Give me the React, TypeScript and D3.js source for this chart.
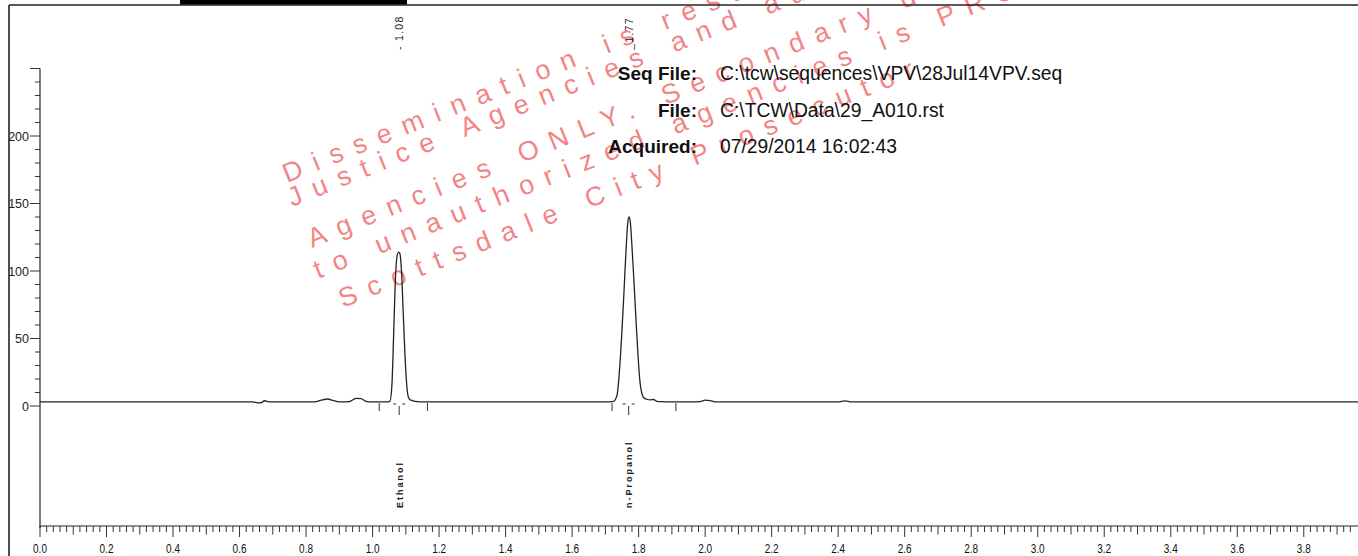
import React from "react";
import * as d3 from "d3";

const W = 1358;
const H = 556;

// Chromatogram trace: retention time (min) and signal
const traceTime = [
  0.0, 0.3, 0.64, 0.655, 0.665, 0.675, 0.69, 0.82, 0.85, 0.865, 0.88, 0.9, 0.93, 0.95, 0.965, 0.98, 0.995,
  1.04, 1.052, 1.058, 1.063, 1.068, 1.073, 1.078, 1.082, 1.087, 1.092, 1.097, 1.102, 1.107, 1.113, 1.12, 1.13, 1.15,
  1.4, 1.7, 1.725, 1.735, 1.742, 1.749, 1.756, 1.762, 1.767, 1.771, 1.775, 1.78, 1.786, 1.792, 1.798, 1.804, 1.81,
  1.816, 1.825, 1.835, 1.845, 1.855, 1.87, 1.9, 1.95, 1.985, 2.0, 2.015, 2.03, 2.4, 2.42, 2.44, 3.0, 3.963,
];
const traceSignal = [
  3, 3, 3, 2.3, 2.4, 3.9, 3.1, 3, 4.6, 5.2, 4.2, 3, 3.2, 5.6, 5.4, 3.5, 3,
  3, 3.5, 15, 50, 90, 110, 114, 113, 100, 70, 40, 18, 7, 4.5, 4, 3.4, 3,
  3, 3, 3.5, 8, 25, 52, 85, 115, 135, 140, 136, 118, 92, 64, 38, 18, 9,
  6, 5, 4.6, 4.8, 3.5, 3.2, 3, 3, 3.3, 4.3, 4.0, 3.1, 3, 3.8, 3, 3, 3,
];

const xTickLabels = ["0.0", "0.2", "0.4", "0.6", "0.8", "1.0", "1.2", "1.4", "1.6", "1.8", "2.0", "2.2", "2.4", "2.6", "2.8", "3.0", "3.2", "3.4", "3.6", "3.8"];
const yTickLabels = ["0", "50", "100", "150", "200"];

const peakNames = ["Ethanol", "n-Propanol"];
const peakRT = [1.08, 1.77];
const peakRTLabels = ["- 1.08", "_1.77"];
const peakStart = [1.02, 1.72];
const peakEnd = [1.165, 1.912];

const headerKeys = ["Seq File:", "File:", "Acquired:"];
const headerValues = [
  "C:\\tcw\\sequences\\VPV\\28Jul14VPV.seq",
  "C:\\TCW\\Data\\29_A010.rst",
  "07/29/2014 16:02:43",
];

const watermarkLines = [
  "Dissemination is restricted to authorized Criminal",
  "Justice Agencies and authorized",
  "Agencies ONLY. Secondary dissemination",
  "to unauthorized agencies is PROHIBITED",
  "Scottsdale City Prosecutor",
];
const watermarkAnchors = [
  [287, 183],
  [292, 207],
  [312, 248],
  [318, 279],
  [343, 308],
];

export default function App() {
  const x = d3.scaleLinear().domain([0, 3.963]).range([40, 1358]);
  const y = d3.scaleLinear().domain([0, 250]).range([406, 68.5]);
  const axisY = 526;

  const pts: [number, number][] = traceTime.map((t, i) => [t, traceSignal[i]]);
  const path = d3
    .line<[number, number]>()
    .x((d) => x(d[0]))
    .y((d) => y(d[1]))
    .curve(d3.curveMonotoneX)(pts) as string;

  const xMinor = d3.range(0, 198).map((i) => ({ v: i * 0.02, i }));
  const yMinor = d3.range(0, 26).map((i) => i * 10);

  const font = "'Liberation Sans', Arial, Helvetica, sans-serif";

  return (
    <svg
      width={W}
      height={H}
      style={{ position: "absolute", left: 0, top: 0, background: "#fff" }}
      fontFamily={font}
    >
      <rect x={0} y={0} width={W} height={H} fill="#fff" />

      {/* watermark */}
      <g fill="#f06e6e" fillOpacity={0.85} fontSize={27} letterSpacing={12}>
        {watermarkLines.map((s, i) => (
          <text
            key={i}
            transform={`translate(${watermarkAnchors[i][0]},${watermarkAnchors[i][1]}) rotate(-22)`}
          >
            {s}
          </text>
        ))}
      </g>

      {/* frame */}
      <line x1={9} y1={5} x2={W} y2={5} stroke="#222" strokeWidth={1.6} />
      <line x1={9} y1={5} x2={9} y2={H} stroke="#222" strokeWidth={1.6} />
      <rect x={180} y={0} width={227} height={4.5} fill="#000" />

      {/* y axis */}
      <line x1={40} y1={y(250)} x2={40} y2={axisY + 2} stroke="#222" strokeWidth={1.2} />
      {yMinor.map((v) => (
        <line
          key={v}
          x1={v % 50 === 0 ? 30 : 35}
          x2={40}
          y1={y(v)}
          y2={y(v)}
          stroke="#333"
          strokeWidth={1}
        />
      ))}
      {yTickLabels.map((s) => (
        <text key={s} x={29} y={y(+s) + 4.5} fontSize={12.5} textAnchor="end" fill="#222">
          {s}
        </text>
      ))}

      {/* x axis */}
      <line x1={40} y1={axisY} x2={W} y2={axisY} stroke="#222" strokeWidth={1.2} />
      {xMinor.map(({ v, i }) => (
        <line
          key={i}
          x1={x(v)}
          x2={x(v)}
          y1={axisY}
          y2={axisY + (i % 10 === 0 ? 11 : i % 5 === 0 ? 8.5 : 6)}
          stroke="#333"
          strokeWidth={1}
        />
      ))}
      {xTickLabels.map((s) => (
        <text
          key={s}
          transform={`translate(${x(+s)},553) scale(0.8,1)`}
          fontSize={12.5}
          textAnchor="middle"
          fill="#111"
        >
          {s}
        </text>
      ))}

      {/* trace */}
      <path d={path} fill="none" stroke="#222" strokeWidth={1.3} />

      {/* peak markers */}
      {peakRT.map((rt, i) => (
        <g key={i} stroke="#333" strokeWidth={1}>
          <line x1={x(peakStart[i])} x2={x(peakStart[i])} y1={403} y2={411} />
          <line x1={x(peakEnd[i])} x2={x(peakEnd[i])} y1={403} y2={411} />
          <line x1={x(rt)} x2={x(rt)} y1={406} y2={415} />
          <line x1={x(rt) - 6} x2={x(rt) - 3} y1={404} y2={404} />
          <line x1={x(rt) + 3} x2={x(rt) + 6} y1={404} y2={404} />
        </g>
      ))}
      {peakRT.map((rt, i) => (
        <text
          key={"rt" + i}
          transform={`translate(${x(rt) + 4},50) rotate(-90)`}
          fontSize={10.5}
          letterSpacing={1.3}
          fill="#222"
        >
          {peakRTLabels[i]}
        </text>
      ))}
      {peakNames.map((n, i) => (
        <text
          key={n}
          transform={`translate(${x(peakRT[i]) + 3.5},508) rotate(-90)`}
          fontSize={9}
          fontWeight="bold"
          letterSpacing={2}
          fill="#222"
        >
          {n}
        </text>
      ))}

      {/* header */}
      {headerKeys.map((k, i) => (
        <g key={k}>
          <text x={697} y={80 + i * 36.5} fontSize={19} fontWeight="bold" textAnchor="end" fill="#111">
            {k}
          </text>
          <text x={720} y={80 + i * 36.5} fontSize={19.3} fill="#111">
            {headerValues[i]}
          </text>
        </g>
      ))}
    </svg>
  );
}
